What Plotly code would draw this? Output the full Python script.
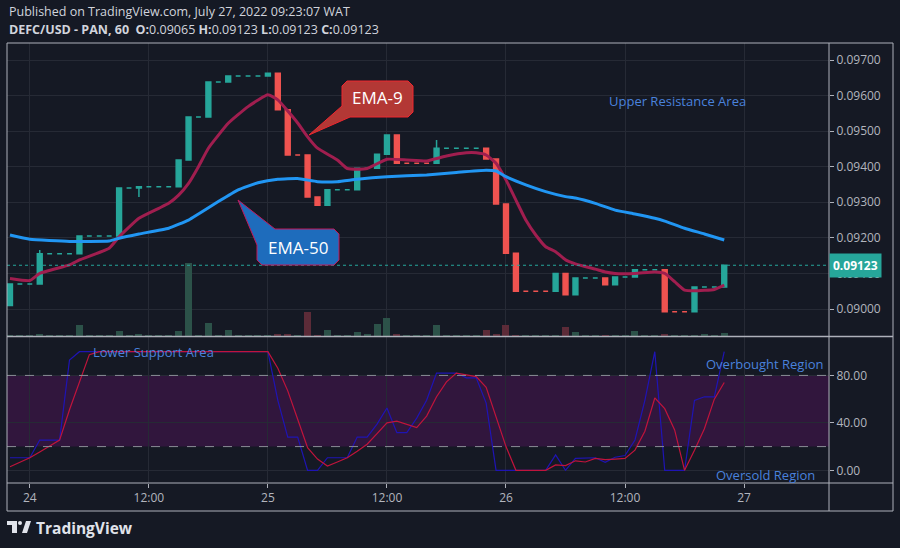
import pandas as pd
import plotly.graph_objects as go

# ---------------- data ----------------
start_time = "2022-07-23 22:00"
n_bars = 73
closes = [0.0907, 0.0907, 0.0907, 0.09155, 0.09155, 0.09155, 0.09155, 0.09205, 0.09205, 0.09205,
          0.09205, 0.0934, 0.0934, 0.09344, 0.09344, 0.09344, 0.09344, 0.09419, 0.0954, 0.0954,
          0.09638, 0.09638, 0.09655, 0.09655, 0.09655, 0.09655, 0.09663, 0.0956, 0.09433, 0.09433,
          0.09315, 0.09292, 0.09335, 0.09335, 0.09335, 0.09396, 0.09396, 0.09435, 0.09489, 0.0941,
          0.0941, 0.0941, 0.0941, 0.09452, 0.09452, 0.09452, 0.09452, 0.09452, 0.09422, 0.09295,
          0.09157, 0.0905, 0.0905, 0.0905, 0.0905, 0.0910, 0.0904, 0.09087, 0.09087, 0.09087,
          0.09068, 0.0909, 0.0909, 0.0911, 0.0911, 0.0911, 0.08992, 0.08992, 0.08992, 0.09062,
          0.09062, 0.09062, 0.09123]
first_open = 0.0901
extra_high = {3: 0.09166, 43: 0.09475}
extra_low = {13: 0.09315}
volumes = {3: 2, 7: 11, 11: 5, 13: 2, 17: 5, 18: 73, 20: 13, 22: 6, 27: 2, 28: 2, 30: 24, 32: 6,
           35: 4, 36: 2, 37: 12, 38: 18, 39: 2, 43: 11, 48: 6, 49: 2, 50: 11, 56: 9, 57: 4, 60: 1,
           63: 5, 66: 2, 70: 2, 72: 3}
base_volume = 0.8

ema9_hours = [0, 2, 3, 6, 7, 10, 11, 13, 15, 16, 17, 18, 19, 20, 22, 24, 26, 27, 29, 30, 31, 33, 34,
              35, 36, 38, 40, 42, 44, 46, 47, 48, 49, 50, 51, 52, 53, 54, 55, 56, 57, 59, 60, 61, 63,
              65, 66, 67, 68, 69, 71, 72]
ema9_vals = [0.09086, 0.0908, 0.091, 0.09124, 0.09138, 0.09171, 0.09203, 0.09255, 0.09283, 0.09297,
             0.0932, 0.09353, 0.094, 0.09452, 0.09522, 0.09569, 0.09602, 0.09588, 0.09523, 0.09484,
             0.09452, 0.09419, 0.09395, 0.09393, 0.09395, 0.09421, 0.09419, 0.09416, 0.0943, 0.09439,
             0.09439, 0.09433, 0.0941, 0.09363, 0.09306, 0.0925, 0.09208, 0.09175, 0.09161, 0.09138,
             0.09127, 0.09112, 0.09104, 0.091, 0.091, 0.09104, 0.091, 0.09077, 0.09053, 0.09051,
             0.09055, 0.09067]
ema50_hours = [0, 2, 6, 10, 11, 13, 16, 18, 19, 21, 23, 25, 27, 29, 31, 33, 35, 38, 42, 45, 48, 49,
               50, 52, 54, 56, 57, 59, 61, 63, 65, 66, 68, 70, 72]
ema50_vals = [0.09208, 0.09196, 0.0919, 0.09191, 0.09199, 0.09211, 0.09227, 0.0925, 0.09267, 0.09302,
              0.09335, 0.09355, 0.09365, 0.09367, 0.09358, 0.09358, 0.09365, 0.09372, 0.09377,
              0.09384, 0.0939, 0.09388, 0.09372, 0.09349, 0.0933, 0.09316, 0.09312, 0.09297, 0.09278,
              0.09267, 0.09255, 0.09247, 0.09227, 0.09211, 0.09194]

stoch_k = [10.6, 10.6, 10.6, 25.5, 25.5, 25.5, 93, 100, 100, 100, 100, 100, 100, 100, 100, 100, 100,
           100, 100, 100, 100, 100, 100, 100, 100, 100, 100, 59, 28, 28, 0, 0, 10.6, 10.6, 10.6, 28,
           28, 39, 52.5, 31.7, 31.7, 44, 59, 82, 82, 82, 78, 78, 56.7, 0, 0, 0, 0, 0, 0, 13, 0, 10,
           10, 10.6, 6.7, 11, 12.5, 25.6, 59, 100, 0, 0, 0, 59, 62, 62, 100]
stoch_d = [3, 7, 10.6, 15.5, 20.5, 25.5, 51, 75, 97.5, 100, 100, 100, 100, 100, 100, 100, 100, 100,
           100, 100, 100, 100, 100, 100, 100, 100, 100, 86, 67, 43, 19, 9.5, 3.6, 7, 10.6, 16, 22,
           31, 40, 41.5, 39, 36, 45.7, 62, 74.6, 82, 80.5, 79, 70, 45, 20, 0, 0, 0, 0, 4.5, 4, 8, 7,
           10, 9, 9.5, 10, 17, 33, 61, 52, 34, 0, 17, 35, 60, 74]

price_ticks = [0.090, 0.091, 0.092, 0.093, 0.094, 0.095, 0.096, 0.097]
stoch_ticks = [0, 40, 80]
time_tick_hours = [2, 14, 26, 38, 50, 62, 74]
time_tick_labels = ["24", "12:00", "25", "12:00", "26", "12:00", "27"]
last_price = 0.09123

# ---------------- build ----------------
base = pd.Timestamp(start_time)
times = pd.date_range(base, periods=n_bars, freq="h")
opens = [first_open] + closes[:-1]
highs = [max(o, c, extra_high.get(i, 0)) for i, (o, c) in enumerate(zip(opens, closes))]
lows = [min(o, c, extra_low.get(i, 1)) for i, (o, c) in enumerate(zip(opens, closes))]
vol = [volumes.get(i, base_volume) for i in range(n_bars)]
vol_col = ["#5c2b38" if c < o else "#2c5249" for o, c in zip(opens, closes)]
hrs = lambda hl: [base + pd.Timedelta(hours=h) for h in hl]

W, H = 900, 548
px = lambda x: x / W
py = lambda y: 1 - y / H

BG = "#151924"
GRID = "#262a35"
FRAME = "#aeb1ba"
TXT = "#b2b5be"
ANN = "#4a82dc"

fig = go.Figure()
fig.add_trace(go.Bar(x=times, y=vol, marker_color=vol_col, marker_line_width=0, yaxis="y3",
                     xaxis="x", width=7 * 3600 * 1000 / 9.92, showlegend=False))
fig.add_trace(go.Candlestick(x=times, open=opens, high=highs, low=lows, close=closes,
                             increasing=dict(line=dict(color="#26a69a", width=1.5), fillcolor="#26a69a"),
                             decreasing=dict(line=dict(color="#ef5350", width=1.5), fillcolor="#ef5350"),
                             whiskerwidth=0, showlegend=False, yaxis="y", xaxis="x"))
fig.add_trace(go.Scatter(x=hrs(ema9_hours), y=ema9_vals, mode="lines", yaxis="y",
                         line=dict(color="#a01e4f", width=3, shape="spline", smoothing=0.4), showlegend=False))
fig.add_trace(go.Scatter(x=hrs(ema50_hours), y=ema50_vals, mode="lines", yaxis="y",
                         line=dict(color="#2196f3", width=3, shape="spline", smoothing=0.4), showlegend=False))
fig.add_trace(go.Scatter(x=times, y=stoch_k, mode="lines", yaxis="y2",
                         line=dict(color="#1f14b4", width=1.2), showlegend=False))
fig.add_trace(go.Scatter(x=times, y=stoch_d, mode="lines", yaxis="y2",
                         line=dict(color="#c0143c", width=1.2), showlegend=False))

xr = [base + pd.Timedelta(hours=-0.30), base + pd.Timedelta(hours=82.56)]
tickx = hrs(time_tick_hours)

fig.update_layout(
    width=W, height=H, margin=dict(l=0, r=0, t=0, b=0),
    paper_bgcolor=BG, plot_bgcolor=BG, font=dict(family="Open Sans", color=TXT, size=12),
    bargap=0,
    xaxis=dict(domain=[px(7), px(829)], range=xr, anchor="y2", rangeslider=dict(visible=False),
               tickvals=tickx, ticktext=time_tick_labels, showgrid=True, gridcolor=GRID,
               ticks="outside", ticklen=4, tickcolor=FRAME, showline=False, zeroline=False,
               tickfont=dict(size=12, color=TXT)),
    yaxis=dict(domain=[1 - 336 / H, 1 - 43 / H], range=[0.089241, 0.097478], side="right",
               anchor="x", tickvals=price_ticks, tickformat=".5f", showgrid=True, gridcolor=GRID,
               ticks="outside", ticklen=4, tickcolor=FRAME, zeroline=False,
               tickfont=dict(size=12, color=TXT)),
    yaxis3=dict(overlaying="y", range=[0, 293], visible=False),
    yaxis2=dict(domain=[1 - 483 / H, 1 - 337 / H], range=[-10.7, 112.4], side="right", anchor="x",
                tickvals=stoch_ticks, tickformat=".2f", showgrid=True, gridcolor=GRID,
                ticks="outside", ticklen=4, tickcolor=FRAME, zeroline=False,
                tickfont=dict(size=12, color=TXT)),
)

shapes = []
shapes.append(dict(type="rect", xref="x", yref="y2", x0=xr[0], x1=xr[1], y0=20, y1=80,
                   fillcolor="#31163d", line_width=0, layer="below"))
for lv in (20, 80):
    shapes.append(dict(type="line", xref="x", yref="y2", x0=xr[0], x1=xr[1], y0=lv, y1=lv,
                       line=dict(color="#8a8d96", width=1, dash="dash")))
shapes.append(dict(type="line", xref="x", yref="y", x0=xr[0], x1=xr[1], y0=last_price, y1=last_price,
                   line=dict(color="#26a69a", width=1, dash="dot")))
shapes.append(dict(type="rect", xref="paper", yref="paper", x0=px(7), x1=px(893), y0=py(511), y1=py(43),
                   line=dict(color=FRAME, width=1)))
for yy in (336.5, 483):
    shapes.append(dict(type="line", xref="paper", yref="paper", x0=px(7), x1=px(893), y0=py(yy), y1=py(yy),
                       line=dict(color=FRAME, width=1.5 if yy < 400 else 1)))
shapes.append(dict(type="line", xref="paper", yref="paper", x0=px(829), x1=px(829), y0=py(511), y1=py(43),
                   line=dict(color=FRAME, width=1)))


def path(pts):
    return "M " + " L ".join(f"{px(a)},{py(b)}" for a, b in pts) + " Z"


shapes.append(dict(type="path", xref="paper", yref="paper",
                   path=path([(347, 81), (408, 81), (413, 86), (413, 112), (408, 117), (350, 117),
                              (309, 135), (342, 106), (342, 86)]),
                   fillcolor="#b33835", line=dict(color="#f0262f", width=1)))
shapes.append(dict(type="path", xref="paper", yref="paper",
                   path=path([(275, 229), (334, 229), (339, 234), (339, 260), (334, 265), (262, 265),
                              (257, 260), (257, 245), (238, 200)]),
                   fillcolor="#1e6cbc", line=dict(color="#c2185b", width=1)))
# logo
shapes.append(dict(type="rect", xref="paper", yref="paper", x0=px(7), x1=px(17), y0=py(525), y1=py(521),
                   fillcolor="#e0e3eb", line_width=0))
shapes.append(dict(type="rect", xref="paper", yref="paper", x0=px(12), x1=px(17), y0=py(533), y1=py(521),
                   fillcolor="#e0e3eb", line_width=0))
shapes.append(dict(type="circle", xref="paper", yref="paper", x0=px(18), x1=px(22), y0=py(525), y1=py(521),
                   fillcolor="#e0e3eb", line_width=0))
shapes.append(dict(type="path", xref="paper", yref="paper", path=path([(22, 533), (26, 521), (31, 521), (27, 533)]),
                   fillcolor="#e0e3eb", line_width=0))
fig.update_layout(shapes=shapes)

anns = [
    dict(x=px(7), y=py(12), text="Published on TradingView.com, July 27, 2022 09:23:07 WAT",
         font=dict(size=12.5, color="#d1d4dc"), xanchor="left"),
    dict(x=px(7), y=py(29),
         text="<b>DEFC/USD - PAN, 60  O:</b>0.09065 <b>H:</b>0.09123 <b>L:</b>0.09123 <b>C:</b>0.09123",
         font=dict(size=12.5, color="#d1d4dc"), xanchor="left"),
    dict(x=px(377), y=py(98), text="EMA-9", font=dict(size=17, color="#ffffff"), xanchor="center"),
    dict(x=px(298), y=py(247), text="EMA-50", font=dict(size=17, color="#ffffff"), xanchor="center"),
    dict(x=px(677), y=py(101), text="Upper Resistance Area", font=dict(size=13, color=ANN), xanchor="center"),
    dict(x=px(91), y=py(352), text="Lower Support Area", font=dict(size=13, color=ANN), xanchor="left"),
    dict(x=px(825), y=py(364), text="Overbought Region", font=dict(size=13, color=ANN), xanchor="right"),
    dict(x=px(817), y=py(475), text="Oversold Region", font=dict(size=13, color=ANN), xanchor="right"),
    dict(x=px(34), y=py(528), text="<b>TradingView</b>", font=dict(size=15.5, color="#e0e3eb"), xanchor="left"),
    dict(x=px(829), xref="paper", y=last_price, yref="y", text="<b>0.09123</b>", xanchor="left",
         bgcolor="#26a69a", font=dict(size=12, color="#ffffff"), borderpad=3),
]
for a in anns:
    a.setdefault("xref", "paper")
    a.setdefault("yref", "paper")
    a.setdefault("showarrow", False)
    a.setdefault("yanchor", "middle")
fig.update_layout(annotations=anns)

fig.write_html("out.html", config={"displayModeBar": False},
               post_script="document.body.style.margin='0';document.body.style.overflow='hidden';"
                           "document.body.style.background='#151924';")
